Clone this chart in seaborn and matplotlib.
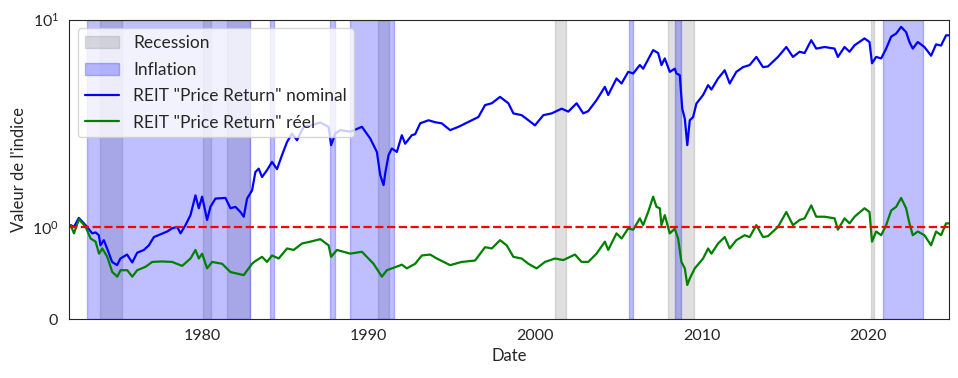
import numpy as np, pandas as pd
import matplotlib; matplotlib.use("Agg")
import matplotlib.pyplot as plt
from matplotlib.patches import Patch
from matplotlib.lines import Line2D
import seaborn as sns

# REIT "Price Return" index, nominal (decimal year, value)
nom_years = [1972.05, 1972.1, 1972.3, 1972.59, 1972.89, 1973.09, 1973.39, 1973.6, 1973.79, 1973.89,
             1974.09, 1974.29, 1974.59, 1974.89, 1975.09, 1975.49, 1975.8, 1976.1, 1976.5, 1976.8,
             1977.1, 1977.5, 1977.9, 1978.2, 1978.5, 1978.7, 1979.0, 1979.3, 1979.6, 1979.8,
             1980.0, 1980.3, 1980.5, 1980.8, 1981.4, 1981.7, 1982.0, 1982.3, 1982.5, 1982.7,
             1983.0, 1983.2, 1983.4, 1983.6, 1983.9, 1984.2, 1984.5, 1984.8, 1985.1, 1985.4,
             1985.7, 1986.1, 1986.6, 1987.1, 1987.6, 1987.75, 1988.0, 1988.3, 1988.9, 1989.6,
             1990.1, 1990.5, 1990.7, 1990.9, 1991.0, 1991.2, 1991.4, 1991.7, 1992.0, 1992.2,
             1992.6, 1992.8, 1993.1, 1993.6, 1994.0, 1994.4, 1994.9, 1995.4, 1996.0, 1996.6,
             1997.0, 1997.4, 1997.9, 1998.4, 1998.7, 1999.2, 1999.5, 2000.0, 2000.5, 2001.0,
             2001.6, 2002.0, 2002.5, 2002.9, 2003.2, 2003.7, 2004.2, 2004.4, 2004.9, 2005.2,
             2005.6, 2005.9, 2006.3, 2006.5, 2007.1, 2007.4, 2007.6, 2007.8, 2008.1, 2008.4,
             2008.5, 2008.7, 2008.85, 2009.0, 2009.15, 2009.3, 2009.5, 2009.7, 2010.1, 2010.4,
             2010.6, 2011.0, 2011.4, 2011.7, 2012.1, 2012.5, 2012.9, 2013.3, 2013.7, 2014.0,
             2014.6, 2015.1, 2015.5, 2015.9, 2016.2, 2016.6, 2016.9, 2017.4, 2018.0, 2018.2,
             2018.6, 2018.9, 2019.2, 2019.8, 2020.1, 2020.25, 2020.5, 2020.8, 2021.1, 2021.4,
             2021.7, 2022.0, 2022.3, 2022.5, 2022.7, 2023.0, 2023.4, 2023.8, 2024.1, 2024.4,
             2024.7, 2024.9]
nom_vals = [1.00, 1.02, 1.00, 1.105, 1.04, 1.00, 0.93, 0.94, 0.91, 0.80,
            0.856, 0.766, 0.62, 0.585, 0.657, 0.70, 0.614, 0.72, 0.75, 0.80,
            0.89, 0.92, 0.95, 0.985, 1.00, 0.93, 1.02, 1.14, 1.42, 1.23,
            1.40, 1.08, 1.25, 1.37, 1.38, 1.23, 1.25, 1.18, 1.12, 1.37,
            1.50, 1.84, 1.91, 1.74, 1.88, 2.06, 1.90, 2.22, 2.57, 2.82,
            2.62, 3.04, 3.10, 3.19, 3.04, 2.48, 2.82, 2.93, 2.88, 3.04,
            2.67, 2.30, 1.78, 1.59, 1.81, 2.22, 2.39, 2.30, 2.77, 2.52,
            2.77, 2.80, 3.16, 3.27, 3.20, 3.16, 2.93, 3.04, 3.21, 3.39,
            3.87, 3.95, 4.24, 3.95, 3.53, 3.46, 3.32, 3.09, 3.46, 3.53,
            3.72, 3.60, 3.95, 3.53, 3.62, 4.09, 4.74, 4.33, 5.20, 4.92,
            5.60, 5.50, 6.04, 5.80, 7.13, 6.90, 6.04, 6.50, 5.60, 5.80,
            5.50, 5.40, 3.72, 3.33, 2.48, 3.27, 3.39, 3.94, 4.33, 4.83,
            4.60, 5.20, 5.70, 4.92, 5.60, 5.90, 6.04, 6.61, 5.90, 5.95,
            6.61, 7.38, 6.61, 7.00, 6.90, 7.96, 7.25, 7.38, 7.25, 6.61,
            7.38, 7.00, 7.52, 8.12, 7.80, 6.16, 6.61, 6.50, 7.25, 8.28,
            8.57, 9.23, 8.70, 7.80, 7.25, 7.80, 7.38, 6.70, 7.60, 7.50,
            8.40, 8.40]

# REIT "Price Return" index, real (decimal year, value)
real_years = [1972.05, 1972.1, 1972.3, 1972.6, 1973.0, 1973.3, 1973.6, 1973.8, 1974.0, 1974.3,
              1974.6, 1974.9, 1975.1, 1975.5, 1975.8, 1976.1, 1976.6, 1977.0, 1977.6, 1978.2,
              1978.8, 1979.3, 1979.6, 1979.8, 1980.0, 1980.3, 1980.6, 1981.2, 1981.7, 1982.5,
              1983.0, 1983.2, 1983.6, 1983.9, 1984.2, 1984.6, 1985.1, 1985.5, 1986.0, 1986.5,
              1987.1, 1987.6, 1987.75, 1988.1, 1988.9, 1989.6, 1990.3, 1990.8, 1991.1, 1991.5,
              1992.0, 1992.3, 1992.8, 1993.2, 1993.7, 1994.1, 1994.9, 1995.6, 1996.4, 1997.0,
              1997.4, 1997.9, 1998.3, 1998.7, 1999.2, 1999.6, 2000.1, 2000.6, 2001.2, 2001.7,
              2002.4, 2002.8, 2003.2, 2003.7, 2004.2, 2004.4, 2004.9, 2005.2, 2005.6, 2005.9,
              2006.3, 2006.5, 2006.8, 2007.1, 2007.3, 2007.5, 2007.6, 2007.8, 2008.1, 2008.4,
              2008.6, 2008.8, 2009.0, 2009.15, 2009.3, 2009.6, 2010.1, 2010.4, 2010.6, 2011.0,
              2011.4, 2011.7, 2012.1, 2012.6, 2012.9, 2013.3, 2013.7, 2014.0, 2014.6, 2015.1,
              2015.5, 2015.9, 2016.2, 2016.6, 2016.9, 2017.4, 2018.0, 2018.2, 2018.6, 2018.9,
              2019.2, 2019.8, 2020.1, 2020.25, 2020.5, 2020.8, 2021.1, 2021.4, 2021.7, 2022.0,
              2022.3, 2022.5, 2022.7, 2023.0, 2023.4, 2023.8, 2024.1, 2024.4, 2024.7, 2024.9]
real_vals = [1.00, 1.02, 0.93, 1.09, 1.00, 0.874, 0.84, 0.71, 0.766, 0.675,
             0.51, 0.46, 0.53, 0.53, 0.46, 0.53, 0.567, 0.62, 0.625, 0.62,
             0.577, 0.657, 0.75, 0.657, 0.71, 0.55, 0.62, 0.60, 0.51, 0.477,
             0.60, 0.63, 0.675, 0.62, 0.69, 0.657, 0.766, 0.75, 0.82, 0.84,
             0.867, 0.80, 0.675, 0.75, 0.71, 0.73, 0.60, 0.46, 0.53, 0.556,
             0.59, 0.55, 0.60, 0.69, 0.70, 0.657, 0.585, 0.62, 0.635, 0.78,
             0.766, 0.856, 0.80, 0.675, 0.657, 0.60, 0.55, 0.62, 0.657, 0.64,
             0.70, 0.62, 0.62, 0.71, 0.84, 0.75, 0.93, 0.874, 0.983, 0.97,
             1.10, 1.02, 1.18, 1.40, 1.25, 1.23, 1.02, 1.14, 0.93, 0.98,
             0.874, 0.62, 0.55, 0.37, 0.44, 0.55, 0.657, 0.766, 0.71, 0.82,
             0.89, 0.766, 0.856, 0.91, 0.89, 1.02, 0.89, 0.90, 1.00, 1.18,
             1.02, 1.08, 1.10, 1.27, 1.12, 1.12, 1.10, 0.97, 1.10, 1.04,
             1.12, 1.23, 1.18, 0.84, 0.95, 0.91, 1.02, 1.20, 1.25, 1.38,
             1.23, 1.04, 0.91, 0.95, 0.91, 0.80, 0.95, 0.91, 1.04, 1.04]

# shaded periods (start, end) in decimal years
recessions = [(1973.87, 1975.2), (1980.04, 1980.54), (1981.5, 1982.86), (1990.55, 1991.25),
              (2001.2, 2001.88), (2008.0, 2009.55), (2020.2, 2020.38)]
inflation = [(1973.1, 1982.86), (1984.06, 1984.34), (1987.66, 1988.0), (1988.86, 1991.55),
             (2005.66, 2005.9), (2008.43, 2008.79), (2020.94, 2023.34)]


def to_date(y):
    return pd.Timestamp(int(y), 1, 1) + pd.Timedelta(days=(y % 1) * 365.25)


nom = pd.DataFrame({'Date': [to_date(y) for y in nom_years], 'val': nom_vals})
real = pd.DataFrame({'Date': [to_date(y) for y in real_years], 'val': real_vals})

sns.set_style("white")
plt.rcParams['font.family'] = ['Lato', 'DejaVu Sans']
fig, ax = plt.subplots(figsize=(9.58, 3.78), dpi=100)
fig.subplots_adjust(left=0.072, right=0.991, top=0.948, bottom=0.156)

for a, b in recessions:
    ax.axvspan(to_date(a), to_date(b), color='gray', alpha=0.25)
for a, b in inflation:
    ax.axvspan(to_date(a), to_date(b), color='blue', alpha=0.25)

sns.lineplot(data=nom, x='Date', y='val', color='blue', ax=ax, linewidth=1.6)
sns.lineplot(data=real, x='Date', y='val', color='green', ax=ax, linewidth=1.6)
ax.axhline(1, color='red', linestyle='--', linewidth=1.6)

ax.set_yscale('symlog', linthresh=1, linscale=0.4)
ax.set_ylim(0, 10)
ax.set_xlim(to_date(1972.0), to_date(2024.9))
ax.set_ylabel("Valeur de l'indice", fontsize=12)
ax.set_xlabel("Date", fontsize=12)
ax.tick_params(labelsize=11.5)

handles = [Patch(facecolor='gray', edgecolor='gray', alpha=0.25, label='Recession'),
           Patch(facecolor='blue', edgecolor='blue', alpha=0.25, label='Inflation'),
           Line2D([], [], color='blue', linewidth=1.6, label='REIT "Price Return" nominal'),
           Line2D([], [], color='green', linewidth=1.6, label='REIT "Price Return" réel')]
ax.legend(handles=handles, loc='upper left', fontsize=12.5, labelspacing=0.6)

fig.savefig("out.png", dpi=100)
